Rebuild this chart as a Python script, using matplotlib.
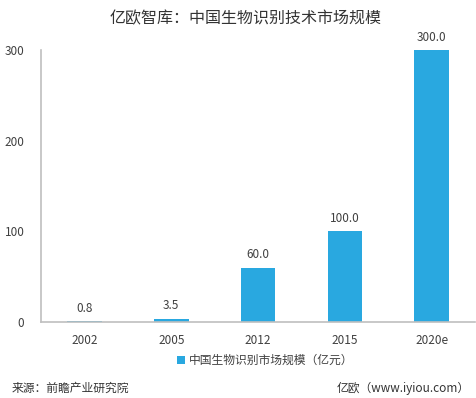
import matplotlib
matplotlib.use("Agg")
import matplotlib.pyplot as plt

plt.rcParams['font.family'] = ['Noto Sans CJK SC', 'DejaVu Sans']

categories = ["2002", "2005", "2012", "2015", "2020e"]
values = [0.8, 3.5, 60.0, 100.0, 300.0]
yticks = [0, 100, 200, 300]
title = "亿欧智库：中国生物识别技术市场规模"
legend_label = "中国生物识别市场规模（亿元）"
source = "来源：前瞻产业研究院"
credit = "亿欧（www.iyiou.com）"

bar_color = "#29A8E0"
text_color = "#404040"
axis_color = "#BFBFBF"

fig = plt.figure(figsize=(4.77, 3.98), dpi=100)
ax = fig.add_axes([0.086, 0.191, 0.91, 0.683])
x = range(len(categories))
bars = ax.bar(x, values, width=0.4, color=bar_color, label=legend_label)
for xi, v in zip(x, values):
    ax.text(xi, v + 7, f"{v:.1f}", ha="center", va="bottom", fontsize=8.5, color=text_color)

ax.set_xlim(-0.5, len(categories) - 0.5)
ax.set_ylim(0, 300)
ax.set_xticks(list(x))
ax.set_xticklabels(categories, fontsize=8.5, color=text_color)
ax.set_yticks(yticks)
ax.set_yticklabels([str(t) for t in yticks], fontsize=8.5, color=text_color)
ax.tick_params(axis="both", length=0)
ax.tick_params(axis="x", pad=9)
ax.tick_params(axis="y", pad=12)
for s in ["top", "right"]:
    ax.spines[s].set_visible(False)
for s in ["left", "bottom"]:
    ax.spines[s].set_color(axis_color)
    ax.spines[s].set_linewidth(1.2)

fig.text(0.515, 0.952, title, ha="center", va="center", fontsize=11.5, color="#333333")
fig.legend(handles=[bars], labels=[legend_label], loc="center", bbox_to_anchor=(0.555, 0.094),
           frameon=False, fontsize=8.5, handlelength=0.7, handleheight=0.7, handletextpad=0.3,
           labelcolor=text_color)
fig.text(0.025, 0.025, source, ha="left", va="center", fontsize=8.5, color="#333333")
fig.text(0.985, 0.025, credit, ha="right", va="center", fontsize=8.5, color="#333333")

fig.savefig("out.png", dpi=100)
